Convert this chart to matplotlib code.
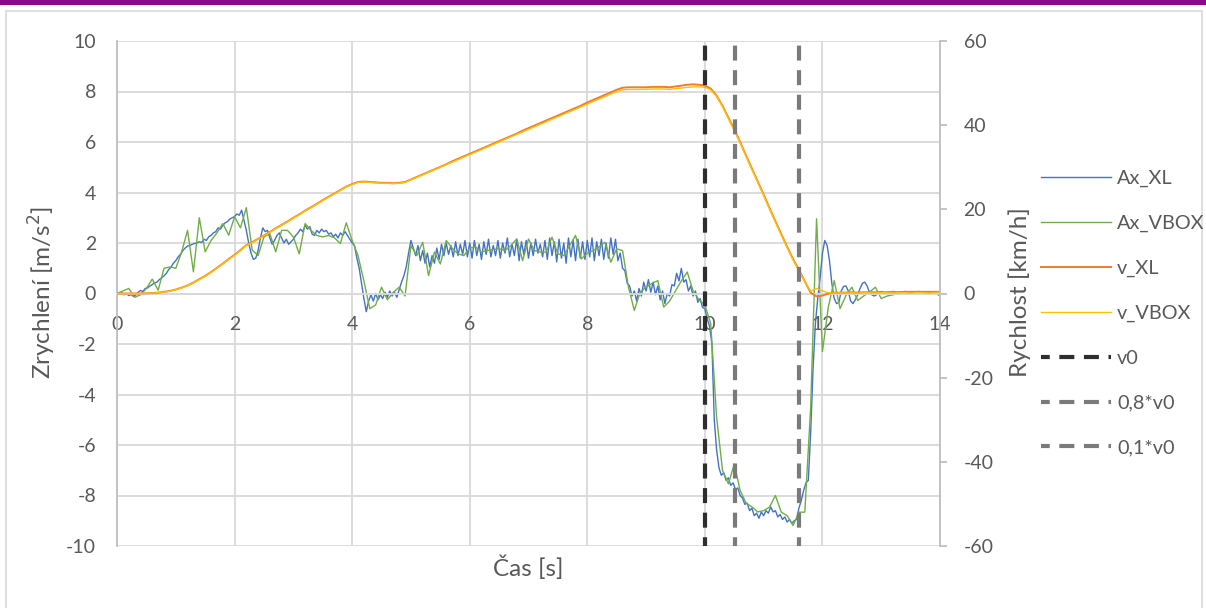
import numpy as np
import matplotlib
matplotlib.use("Agg")
import matplotlib.pyplot as plt
from matplotlib.patches import Rectangle

plt.rcParams['font.family'] = ['Lato', 'DejaVu Sans']
plt.rcParams['axes.unicode_minus'] = False

# ---------------- data ----------------
# Ax_XL sampled every 0.04 s (0 .. 14 s)
ax_xl = [
    0.0, -0.02, 0.03, -0.05, 0.0, -0.08, -0.04, -0.12, -0.06, 0.05, 0.12, 0.08, 0.2, 0.22, 0.3, 0.35, 0.42, 0.45, 0.55, 0.62, 0.7, 0.8, 0.95, 1.05, 1.2,
    1.3, 1.45, 1.55, 1.7, 1.8, 1.88, 1.9, 1.95, 1.98, 2.0, 2.05, 2.02, 2.15, 2.1, 2.25, 2.3, 2.4, 2.45, 2.6, 2.55, 2.7, 2.8, 2.85, 2.95, 3.0,
    3.05, 3.15, 3.1, 3.3, 2.9, 2.5, 2.0, 1.6, 1.35, 1.4, 1.7, 2.2, 2.6, 2.45, 2.5, 2.2, 1.95, 2.1, 2.3, 2.4, 2.2, 2.0, 2.15, 1.95, 2.05,
    2.15, 2.3, 2.4, 2.55, 2.45, 2.7, 2.55, 2.65, 2.35, 2.3, 2.5, 2.4, 2.55, 2.45, 2.5, 2.35, 2.4, 2.25, 2.35, 2.2, 2.4, 2.3, 2.45, 2.3, 2.15,
    2.0, 1.9, 1.4, 1.0, 0.4, -0.2, -0.72, -0.3, -0.05, -0.3, 0.0, -0.25, -0.05, -0.2, 0.05, -0.15, 0.1, -0.1, 0.05, -0.15, 0.15, 0.45, 0.7, 1.05, 1.6,
    2.1, 1.8, 1.5, 1.9, 1.3, 1.7, 1.2, 1.6, 1.05, 1.5, 1.2, 1.8, 1.35, 1.95, 1.5, 2.0, 1.55, 1.9, 1.45, 2.05, 1.5, 1.95, 1.55, 2.1, 1.45,
    2.0, 1.4, 2.1, 1.5, 1.95, 1.35, 2.05, 1.55, 2.15, 1.45, 1.9, 1.5, 2.1, 1.4, 2.0, 1.6, 2.2, 1.45, 1.95, 1.5, 2.15, 1.3, 2.05, 1.55, 2.1,
    1.4, 2.0, 1.5, 2.15, 1.6, 1.95, 1.45, 2.1, 1.35, 2.2, 1.5, 2.05, 1.25, 2.15, 1.4, 2.0, 1.2, 2.2, 1.45, 2.1, 1.3, 2.15, 1.4, 2.05, 1.35,
    2.1, 1.45, 2.2, 1.3, 2.05, 1.5, 2.15, 1.35, 2.0, 1.4, 2.2, 1.55, 2.15, 1.3, 1.6, 1.0, 0.9, 0.4, 0.3, -0.1, 0.1, -0.3, 0.2, -0.1, 0.45,
    0.1, 0.55, 0.05, 0.45, -0.05, 0.3, -0.25, 0.1, -0.4, 0.0, -0.1, 0.35, 0.3, 0.8, 0.5, 1.0, 0.45, 0.55, 0.1, 0.3, -0.1, 0.1, -0.35, -0.2, -0.55,
    -0.6, -1.0, -1.3, -2.0, -5.0, -6.2, -6.9, -7.2, -7.1, -7.4, -7.3, -7.6, -7.5, -7.75, -7.7, -8.0, -8.1, -8.35, -8.3, -8.6, -8.5, -8.8, -8.7, -8.9, -8.65,
    -8.8, -8.6, -8.7, -8.45, -8.65, -8.6, -8.85, -8.75, -8.95, -8.85, -9.05, -8.95, -9.1, -9.0, -8.95, -8.5, -8.2, -7.8, -7.5, -7.4, -5.5, -3.0, -1.2, -0.2, 0.6,
    1.6, 2.1, 1.9, 1.3, 0.4, -0.2, -0.4, -0.35, 0.1, 0.28, 0.3, 0.1, -0.3, -0.4, -0.25, -0.05, 0.2, 0.4, 0.45, 0.3, 0.05, -0.05, -0.1, -0.05, 0.05,
    0.08, 0.05, 0.02, 0.06, 0.04, 0.08, 0.05, 0.03, 0.07, 0.05, 0.08, 0.06, 0.04, 0.07, 0.05, 0.06, 0.08, 0.05, 0.07, 0.06, 0.04, 0.06, 0.05, 0.07, 0.06,
    0.05,
]

# Ax_VBOX sampled every 0.1 s
ax_vbox = [
    0.0, 0.1, 0.2, -0.15, -0.05, 0.2, 0.57, 0.13, 1.0, 1.05,
    1.0, 1.65, 2.5, 0.86, 3.0, 1.65, 2.1, 2.4, 2.77, 2.31,
    3.04, 2.6, 3.4, 1.72, 1.5, 2.24, 2.37, 1.65, 2.5, 2.5,
    2.24, 1.57, 2.77, 2.5, 2.3, 2.24, 2.3, 2.2, 1.98, 2.8,
    2.1, 1.5, 0.5, -0.6, -0.45, 0.25, -0.25, 0.05, 0.25, -0.1,
    1.9, 1.5, 2.03, 0.71, 1.64, 1.17, 2.1, 1.8, 1.57, 1.5,
    1.8, 1.85, 1.64, 1.7, 1.75, 1.77, 1.7, 1.9, 2.16, 1.3,
    2.16, 1.7, 1.64, 1.64, 2.23, 1.57, 1.5, 1.9, 2.3, 1.37,
    1.6, 1.7, 1.85, 2.03, 1.24, 1.77, 1.7, 0.25, -0.67, 0.05,
    0.25, 0.4, 0.51, -0.54, -0.3, 0.1, 0.5, 0.85, 0.1, -0.25,
    -0.45, -1.2, -4.9, -7.0, -7.54, -6.75, -7.8, -8.3, -8.45, -8.65,
    -8.6, -8.46, -8.0, -8.66, -8.8, -9.19, -8.66, -8.66, -4.5, 2.96,
    -2.3, -0.54, 0.51, -0.6, -0.08, 0.25, -0.28, -0.1, 0.05, 0.25,
    -0.2, -0.1, -0.05, 0.0, 0.02, 0.05, 0.03, 0.05, 0.06, 0.04,
    -0.1,
]

# velocities [km/h] sampled every 0.1 s
v_xl = [
    0.0, 0.0, 0.0, 0.0, 0.0, 0.05, 0.1, 0.2, 0.4, 0.6,
    0.95, 1.4, 1.9, 2.6, 3.4, 4.2, 5.1, 6.1, 7.1, 8.2,
    9.2, 10.3, 11.5, 12.2, 13.0, 13.8, 14.6, 15.5, 16.3, 17.1,
    18.0, 18.8, 19.7, 20.5, 21.3, 22.2, 23.0, 23.8, 24.6, 25.4,
    26.0, 26.5, 26.6, 26.5, 26.4, 26.3, 26.3, 26.2, 26.3, 26.5,
    27.1, 27.7, 28.3, 28.9, 29.5, 30.1, 30.7, 31.4, 32.0, 32.6,
    33.2, 33.8, 34.4, 35.0, 35.6, 36.2, 36.8, 37.4, 38.0, 38.7,
    39.3, 39.9, 40.5, 41.1, 41.7, 42.3, 42.9, 43.5, 44.1, 44.7,
    45.4, 46.0, 46.6, 47.2, 47.8, 48.4, 48.9, 49.0, 49.0, 49.0,
    49.0, 49.1, 49.1, 49.1, 49.0, 49.2, 49.4, 49.6, 49.7, 49.6,
    49.4, 48.7, 47.0, 44.6, 41.8, 39.0, 36.0, 32.8, 29.7, 26.6,
    23.5, 20.3, 17.2, 14.1, 11.1, 8.2, 5.6, 2.9, 0.2, -0.7,
    -0.5, 0.0, 0.2, 0.2, 0.2, 0.3, 0.2, 0.3, 0.3, 0.3,
    0.3, 0.3, 0.4, 0.3, 0.4, 0.4, 0.4, 0.4, 0.4, 0.4,
    0.4,
]

v_vbox = [
    0.0, 0.0, 0.0, 0.0, 0.0, 0.05, 0.1, 0.2, 0.35, 0.55,
    0.9, 1.35, 1.85, 2.5, 3.3, 4.1, 5.0, 6.0, 7.0, 8.1,
    9.1, 10.2, 11.4, 12.1, 12.9, 13.7, 14.5, 15.4, 16.2, 17.0,
    17.9, 18.7, 19.6, 20.4, 21.2, 22.1, 22.9, 23.7, 24.5, 25.3,
    25.9, 26.4, 26.5, 26.4, 26.3, 26.2, 26.2, 26.1, 26.2, 26.4,
    27.0, 27.6, 28.2, 28.8, 29.4, 30.0, 30.6, 31.2, 31.8, 32.4,
    33.0, 33.6, 34.2, 34.8, 35.4, 36.0, 36.6, 37.2, 37.8, 38.4,
    39.0, 39.6, 40.2, 40.8, 41.4, 42.0, 42.6, 43.2, 43.8, 44.4,
    45.0, 45.6, 46.2, 46.8, 47.4, 48.0, 48.4, 48.5, 48.5, 48.5,
    48.5, 48.6, 48.6, 48.6, 48.5, 48.7, 48.8, 49.0, 49.1, 49.1,
    49.0, 48.4, 46.8, 44.4, 41.6, 38.8, 35.8, 32.6, 29.5, 26.4,
    23.3, 20.1, 17.0, 13.9, 10.9, 8.0, 5.4, 2.8, 0.5, 1.2,
    0.6, 0.2, 0.1, 0.2, 0.1, 0.2, 0.1, 0.2, 0.2, 0.1,
    0.2, 0.2, 0.1, 0.2, 0.2, 0.1, 0.2, 0.2, 0.1, 0.2,
    0.2,
]

# reference times [s]
vline_labels = ['v0', '0,8*v0', '0,1*v0']
vline_times = [10.0, 10.51, 11.6]

series_labels = ['Ax_XL', 'Ax_VBOX', 'v_XL', 'v_VBOX']
x_ticks = [0, 2, 4, 6, 8, 10, 12, 14]
y_ticks = [-10, -8, -6, -4, -2, 0, 2, 4, 6, 8, 10]
y2_ticks = [-60, -40, -20, 0, 20, 40, 60]

t_xl = np.linspace(0, 14, len(ax_xl))
t_vbox = np.linspace(0, 14, len(ax_vbox))
t_v = np.linspace(0, 14, len(v_xl))

# ---------------- figure ----------------
W, H = 1206, 608
fig = plt.figure(figsize=(W / 100, H / 100), dpi=100)
txt = '#595959'
grid_c = '#d9d9d9'

# page decoration
fig.patches.append(Rectangle((0, 1 - 5 / H), 1, 5 / H, transform=fig.transFigure,
                             facecolor='#8B0A84', edgecolor='none', zorder=0))
fig.patches.append(Rectangle((6 / W, -0.02), (1202 - 6) / W, 1 - 11 / H + 0.02,
                             transform=fig.transFigure, facecolor='none',
                             edgecolor=grid_c, lw=1.2, zorder=0))

L, R, T, B = 117, 940, 41, 546
ax = fig.add_axes([L / W, 1 - B / H, (R - L) / W, (B - T) / H])
ax.set_xlim(0, 14)
ax.set_ylim(-10, 10)
ax.set_xticks(x_ticks)
ax.set_yticks(y_ticks)
ax.grid(True, color=grid_c, lw=1.3)
ax.set_axisbelow(True)
for s in ['top', 'right']:
    ax.spines[s].set_visible(False)
ax.spines['left'].set_color('#bfbfbf')
ax.spines['left'].set_linewidth(1.3)
ax.spines['bottom'].set_position(('data', 0))
ax.spines['bottom'].set_color(grid_c)
ax.spines['bottom'].set_linewidth(1.3)
ax.tick_params(axis='x', length=0, pad=16, labelsize=14, labelcolor=txt)
ax.tick_params(axis='y', length=0, pad=15, labelsize=14, labelcolor=txt)

l1, = ax.plot(t_xl, ax_xl, color='#4472C4', lw=1.0)
l2, = ax.plot(t_vbox, ax_vbox, color='#70AD47', lw=1.0)

ax2 = ax.twinx()
ax2.set_ylim(-60, 60)
ax2.set_yticks(y2_ticks)
for s in ['top', 'left', 'bottom']:
    ax2.spines[s].set_visible(False)
ax2.spines['right'].set_color('#bfbfbf')
ax2.spines['right'].set_linewidth(1.3)
ax2.tick_params(axis='y', direction='out', length=5, width=1.3, color='#bfbfbf',
                pad=12, labelsize=14, labelcolor=txt)

l3, = ax2.plot(t_v, v_xl, color='#ED7D31', lw=1.4)
l4, = ax2.plot(t_v, v_vbox, color='#FFC000', lw=1.0)

vcolors = ['#2e2e2e', '#7a7a7a', '#7a7a7a']
vhandles = []
for x, c, lab in zip(vline_times, vcolors, vline_labels):
    h = ax2.axvline(x, color=c, lw=3.0, linestyle=(1.5, (3.6, 2.3)), zorder=5)
    vhandles.append(h)

fig.text(42 / W, 1 - 293 / H, 'Zrychlení [m/s$^2$]', rotation=90, ha='center', va='center',
         fontsize=17.5, color=txt)
fig.text(1020 / W, 1 - 292 / H, 'Rychlost [km/h]', rotation=90, ha='center', va='center',
         fontsize=17.5, color=txt)
fig.text(528 / W, 1 - 568 / H, 'Čas [s]', ha='center', va='center', fontsize=17.5, color=txt)

handles = [l1, l2, l3, l4] + vhandles
labels = series_labels + vline_labels
leg = fig.legend(handles, labels, loc='center left', bbox_to_anchor=(1041 / W, 1 - 313 / H),
                 frameon=False, fontsize=14.3, labelspacing=1.4, handlelength=3.5,
                 handletextpad=0.33, borderpad=0, borderaxespad=0)
for t in leg.get_texts():
    t.set_color(txt)

fig.savefig('out.png', dpi=100)
